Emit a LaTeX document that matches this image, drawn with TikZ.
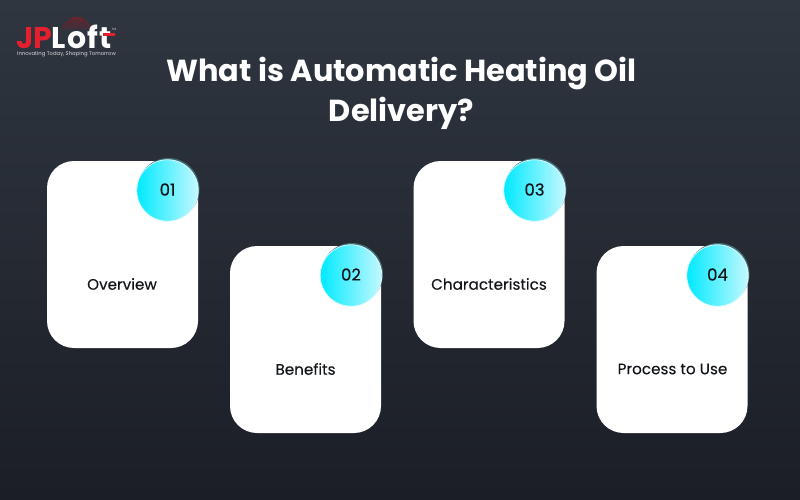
\documentclass[tikz,border=0pt]{standalone}
\usepackage{fontspec}
\setmainfont{Poppins}
\definecolor{bgtop}{HTML}{2F3640}
\definecolor{bgbot}{HTML}{1B1E26}
\definecolor{cyanL}{HTML}{00EAFF}
\definecolor{cyanR}{HTML}{C4F8FF}
\definecolor{ringc}{HTML}{3E6E75}
\definecolor{jpred}{HTML}{E5202E}
\definecolor{inkc}{HTML}{111418}
\tikzset{
  card/.style={fill=white,rounded corners=27pt,minimum width=151pt,minimum height=187pt,inner sep=0pt},
  cardtext/.style={inner sep=0pt,text=inkc,font=\fontsize{15.2}{17}\selectfont\addfontfeature{FakeBold=0.15}},
  badge/.style={circle,minimum size=61.5pt,inner sep=0pt,left color=cyanL,right color=cyanR,draw=cyanR!60!white,line width=0.8pt,
    text=inkc,font=\fontsize{16.5}{18}\selectfont\addfontfeature{FakeBold=0.3}},
  ringdisc/.style={circle,minimum size=62pt,inner sep=0pt,fill=ringc},
  titletext/.style={text=white,align=center,font=\fontsize{30.4}{40}\selectfont\bfseries},
  logotext/.style={anchor=base west,inner sep=0pt,font=\fontsize{30}{30}\selectfont\bfseries}
}
\begin{document}
\begin{tikzpicture}[x=1pt,y=-1pt]
\useasboundingbox (0,0) rectangle (800,500);
\shade[top color=bgtop,bottom color=bgbot] (0,0) rectangle (800,500);
% logo dome
\foreach \j/\w in {0/5,1/8,2/10.5,3/12,4/13.5,5/14.5}{
  \foreach \i in {-7,...,7}{
    \fill[jpred!70!black] (77+\i*\w/7,18+\j*2) circle[radius=0.6pt];
  }
}
% logo text
\node[logotext,text=jpred] (logoa) at (16,48.5) {JP};
\node[logotext,text=white] (logob) at (51,48.5) {\addfontfeature{LetterSpace=5}Loft};
\node[anchor=base west,inner sep=0pt,text=white!85!black,font=\fontsize{5.3}{6}\selectfont] (logoc) at (17,56) {Innovating Today, Shaping Tomorrow};
\fill[jpred] (103,33) rectangle (115,36.5);
\node[inner sep=0pt,text=white!85!black,font=\fontsize{3}{3}\selectfont] (logotm) at (114,29) {TM};
% title
\node[titletext] (title) at (401.5,93) {What is Automatic Heating Oil\\Delivery?};
% cards
\node[card] (c1) at (122.5,254.5) {};
\node[card] (c2) at (305.5,339.5) {};
\node[card] (c3) at (489,254.5) {};
\node[card] (c4) at (672,339.5) {};
\node[cardtext] (t1) at (122,284) {Overview};
\node[cardtext] (t2) at (305.5,369) {Benefits};
\node[cardtext] (t3) at (489,284) {Characteristics};
\node[cardtext] (t4) at (672.5,369) {Process to Use};
% badges
\foreach \n/\x/\y/\t in {b1/167.5/190.5/01,b2/351/275.5/02,b3/534.5/190.5/03,b4/717.5/275.5/04}{
  \node[ringdisc] (r\n) at (\x+1,\y-1.5) {};
  \node[badge] (\n) at (\x,\y) {\raisebox{2pt}{\t}};
}
\end{tikzpicture}
\end{document}
